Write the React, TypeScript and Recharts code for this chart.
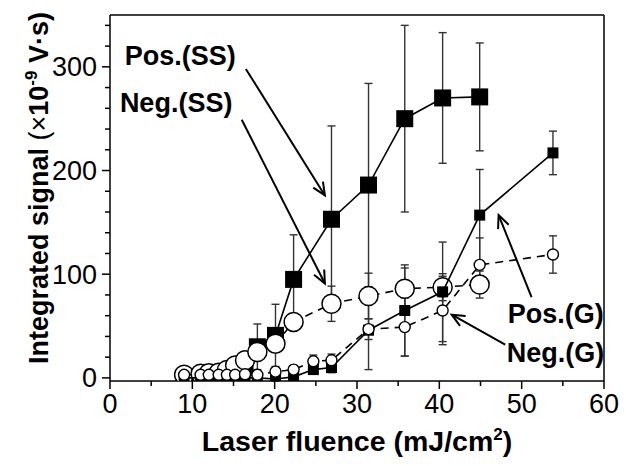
import React from "react";
import {
  ScatterChart,
  Scatter,
  XAxis,
  YAxis,
  ErrorBar,
  ReferenceLine,
  ReferenceDot,
  Label,
} from "recharts";

// fluence points (mJ/cm2)
const fluenceSS = [9, 11, 12, 13.2, 14.2, 15.2, 16.4, 17.9, 20.1, 22.3, 26.9, 31.4, 35.8, 40.4, 44.9];
const fluenceG = [9, 11, 12, 13.2, 14.2, 15.2, 16.4, 17.9, 20.1, 22.3, 24.7, 26.9, 31.4, 35.8, 40.4, 44.9, 53.8];

// integrated signal (x1e-9 V s) and error
const posSS = [0.5, 1, 1.5, 2, 3, 5, 10, 30, 41, 95, 153, 186, 250, 270, 271];
const posSSErr = [1, 1, 1, 1, 2, 3, 6, 22, 30, 43, 90, 98, 90, 63, 52];
const negSS = [3, 4, 4.5, 5, 7.7, 12, 17, 25, 33, 54, 71.5, 79, 86, 87.5, 90];
const negSSErr = [2, 2, 2, 2, 3, 3, 4, 6, 8, 6, 17, 22, 20, 13, 13];
const posG = [0, 0, 0, 0, 0, 0, 0, 0, -1, 1, 8, 10, 46, 65, 83, 157, 217];
const posGErr = [1, 1, 1, 1, 1, 1, 1, 1, 2, 2, 3, 5, 38, 44, 48, 44, 21];
const negG = [3, 3, 3, 3, 3, 3, 3.5, 3, 6, 8, 16, 17, 47, 49, 65, 109, 119];
const negGErr = [3, 3, 3, 3, 3, 3, 3, 3, 3, 4, 6, 6, 10, 28, 33, 26, 18];

const xTicks = [0, 5, 10, 15, 20, 25, 30, 35, 40, 45, 50, 55, 60];
const yTicks = [0, 20, 40, 60, 80, 100, 120, 140, 160, 180, 200, 220, 240, 260, 280, 300, 320, 340];

const toRows = (xs: number[], ys: number[], es: number[]) =>
  xs.map((x, i) => ({ x, y: ys[i], e: es[i] }));

const FONT = "'Liberation Sans', Arial, sans-serif";

const BigSquare = (p: any) => (
  <rect x={p.cx - 8.5} y={p.cy - 8.5} width={17} height={17} fill="#000" />
);
const SmallSquare = (p: any) => (
  <rect x={p.cx - 5.5} y={p.cy - 5.5} width={11} height={11} fill="#000" />
);
const BigCircle = (p: any) => (
  <circle cx={p.cx} cy={p.cy} r={9.5} fill="#fff" stroke="#000" strokeWidth={1.5} />
);
const SmallCircle = (p: any) => (
  <circle cx={p.cx} cy={p.cy} r={5.5} fill="#fff" stroke="#000" strokeWidth={1.4} />
);
const NoShape = () => <g />;

const XTick = (props: any) => {
  const { x, y, payload } = props;
  const major = payload.value % 10 === 0;
  return (
    <g>
      <line x1={x} x2={x} y1={y} y2={y + (major ? 8 : 5)} stroke="#000" strokeWidth={1.5} />
      {major && (
        <text x={x} y={y + 32} textAnchor="middle" fontSize={27} fontFamily={FONT} fill="#000">
          {payload.value}
        </text>
      )}
    </g>
  );
};

const YTick = (props: any) => {
  const { x, y, payload } = props;
  const major = payload.value % 100 === 0;
  return (
    <g>
      <line x1={x} x2={x - (major ? 8 : 5)} y1={y} y2={y} stroke="#000" strokeWidth={1.5} />
      {major && (
        <text x={x - 13} y={y + 9.5} textAnchor="end" fontSize={27} fontFamily={FONT} fill="#000">
          {payload.value}
        </text>
      )}
    </g>
  );
};

const Arrow = (p: any) => {
  const { x1, y1, x2, y2 } = p;
  const ang = Math.atan2(y2 - y1, x2 - x1);
  const L = 14;
  const a1 = ang + Math.PI - 0.42;
  const a2 = ang + Math.PI + 0.42;
  return (
    <g stroke="#000" strokeWidth={2} fill="none">
      <line x1={x1} y1={y1} x2={x2} y2={y2} />
      <polyline
        points={`${x2 + L * Math.cos(a1)},${y2 + L * Math.sin(a1)} ${x2},${y2} ${x2 + L * Math.cos(a2)},${y2 + L * Math.sin(a2)}`}
      />
    </g>
  );
};

const note = (text: string) => (p: any) => (
  <text x={p.cx} y={p.cy} fontSize={27} fontWeight="bold" fontFamily={FONT} fill="#000">
    {text}
  </text>
);

const arrows = [
  { from: [16.5, 298], to: [26.1, 176] },
  { from: [16.0, 249], to: [26.1, 91] },
  { from: [51.2, 78], to: [47.2, 157] },
  { from: [48.0, 32], to: [41.5, 61] },
];
const notes = [
  { x: 1.8, y: 302, text: "Pos.(SS)" },
  { x: 1.2, y: 256, text: "Neg.(SS)" },
  { x: 48.3, y: 53, text: "Pos.(G)" },
  { x: 48.2, y: 15, text: "Neg.(G)" },
];

const series = [
  { xs: fluenceSS, ys: posSS, es: posSSErr, shape: BigSquare, dash: undefined },
  { xs: fluenceSS, ys: negSS, es: negSSErr, shape: BigCircle, dash: "8 6" },
  { xs: fluenceG, ys: posG, es: posGErr, shape: SmallSquare, dash: undefined },
  { xs: fluenceG, ys: negG, es: negGErr, shape: SmallCircle, dash: "8 6" },
];

export default function App() {
  return (
    <div style={{ position: "absolute", left: 0, top: 0, background: "#fff" }}>
      <ScatterChart width={626} height={466} margin={{ top: 15, right: 22, bottom: 0, left: 0 }}>
        <XAxis
          type="number"
          dataKey="x"
          domain={[0, 60]}
          allowDataOverflow
          ticks={xTicks}
          interval={0}
          tickSize={0}
          tickMargin={0}
          tick={<XTick />}
          height={85}
          axisLine={{ stroke: "#000", strokeWidth: 1.5 }}
        >
          <Label
            content={(p: any) => {
              const vb = p.viewBox;
              return (
                <text
                  x={vb.x + vb.width / 2}
                  y={vb.y + 70}
                  textAnchor="middle"
                  fontSize={28.5}
                  fontWeight="bold"
                  fontFamily={FONT}
                  fill="#000"
                >
                  Laser fluence (mJ/cm
                  <tspan dy={-11} fontSize={17}>2</tspan>
                  <tspan dy={11}>)</tspan>
                </text>
              );
            }}
          />
        </XAxis>
        <YAxis
          type="number"
          dataKey="y"
          domain={[-3, 350]}
          allowDataOverflow
          ticks={yTicks}
          interval={0}
          tickSize={0}
          tickMargin={0}
          tick={<YTick />}
          width={110}
          axisLine={{ stroke: "#000", strokeWidth: 1.5 }}
        >
          <Label
            content={() => (
              <text
                x={48}
                y={188}
                transform="rotate(-90 48 188)"
                textAnchor="middle"
                fontSize={27}
                fontWeight="bold"
                fontFamily={FONT}
                fill="#000"
              >
                Integrated signal <tspan fontWeight="normal">(×</tspan>10
                <tspan dy={-11} fontSize={17}>-9</tspan>
                <tspan dy={11}> V·s)</tspan>
              </text>
            )}
          />
        </YAxis>
        <ReferenceLine x={60} stroke="#000" strokeWidth={1.5} />
        <ReferenceLine y={350} stroke="#000" strokeWidth={1.5} />

        {series.map((s, i) => (
          <Scatter
            key={"s" + i}
            data={toRows(s.xs, s.ys, s.es)}
            shape={s.shape}
            line={{ stroke: "#000", strokeWidth: 1.6, strokeDasharray: s.dash }}
            lineType="joint"
            isAnimationActive={false}
          />
        ))}
        {/* error bars drawn over the symbols, as in the original figure */}
        {series.map((s, i) => (
          <Scatter
            key={"e" + i}
            data={toRows(s.xs, s.ys, s.es)}
            shape={NoShape}
            isAnimationActive={false}
          >
            <ErrorBar dataKey="e" direction="y" width={4} stroke="#333" strokeWidth={1.4} />
          </Scatter>
        ))}

        {arrows.map((a, i) => (
          <ReferenceLine
            key={"a" + i}
            segment={[
              { x: a.from[0], y: a.from[1] },
              { x: a.to[0], y: a.to[1] },
            ]}
            shape={Arrow}
          />
        ))}
        {notes.map((n, i) => (
          <ReferenceDot key={"n" + i} x={n.x} y={n.y} r={0} shape={note(n.text)} />
        ))}
      </ScatterChart>
    </div>
  );
}
